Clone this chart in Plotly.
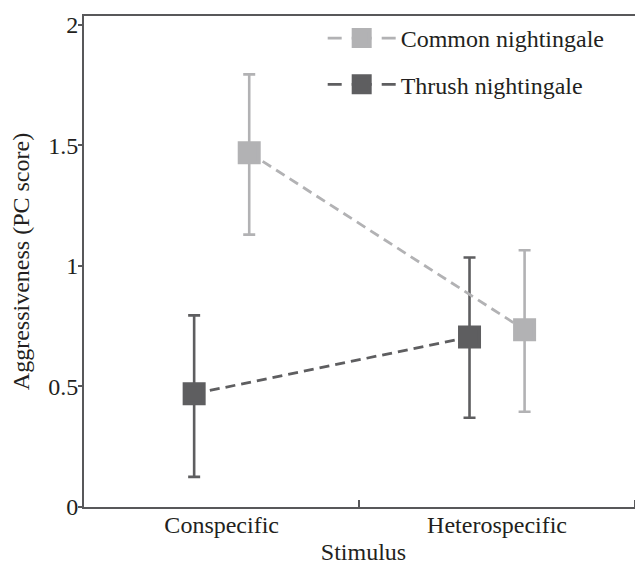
import plotly.graph_objects as go

categories = ["Conspecific", "Heterospecific"]

common_name = "Common nightingale"
common_mean = [1.47, 0.735]
common_low = [1.13, 0.395]
common_high = [1.795, 1.065]

thrush_name = "Thrush nightingale"
thrush_mean = [0.47, 0.705]
thrush_low = [0.125, 0.37]
thrush_high = [0.795, 1.035]

y_ticks = [0, 0.5, 1, 1.5, 2]
y_ticktext = ["0", "0.5", "1", "1.5", "2"]

LIGHT = "#b2b2b4"
DARK = "#5e5e60"
AXIS = "#58585a"
TEXT = "#231f20"
FONT = "Liberation Serif, Times New Roman, serif"
FS = 24


def err(mean, low, high, color):
    return dict(
        type="data",
        symmetric=False,
        array=[h - m for m, h in zip(mean, high)],
        arrayminus=[m - l for m, l in zip(mean, low)],
        thickness=2.6,
        width=6,
        color=color,
    )


def marker(color):
    return dict(symbol="square", size=19, color=color, line=dict(color=color, width=4))


fig = go.Figure()
series = [
    ("t", thrush_name, thrush_mean, thrush_low, thrush_high, DARK, 2),
    ("c", common_name, common_mean, common_low, common_high, LIGHT, 1),
]
for grp, name, mean, low, high, color, rank in series:
    fig.add_trace(go.Scatter(
        x=categories, y=mean, name=name, mode="lines+markers",
        line=dict(color=color, width=2.8, dash="10px,6px"),
        marker=marker(color),
        error_y=err(mean, low, high, color),
        offsetgroup=grp, showlegend=False,
    ))
# legend entries (same style, with the legend's own dash rhythm)
for grp, name, mean, low, high, color, rank in series:
    fig.add_trace(go.Scatter(
        x=[None], y=[None], name=name, mode="lines+markers",
        line=dict(color=color, width=2.8, dash="14px,10px,20px,10px,14px,40px"),
        marker=marker(color),
        offsetgroup=grp, legendgroup=grp, legendrank=rank, showlegend=True,
    ))

fig.update_layout(
    width=635, height=557,
    margin=dict(l=76, r=0, t=8, b=58),
    paper_bgcolor="white", plot_bgcolor="white",
    font=dict(family=FONT, size=FS, color=TEXT),
    scattermode="group", scattergap=0.6,
    showlegend=True,
    legend=dict(
        x=0.427, y=1.0, xanchor="left", yanchor="top",
        bgcolor="rgba(0,0,0,0)", traceorder="grouped", tracegroupgap=12,
        itemwidth=68, font=dict(size=FS, color=TEXT),
    ),
    xaxis=dict(
        type="category", categoryorder="array", categoryarray=categories,
        range=[-0.5, 1.53], tickson="boundaries", ticks="inside", ticklen=7,
        tickwidth=1.5, tickcolor=AXIS, showline=True, linecolor=AXIS, linewidth=2,
        mirror=True, showgrid=False, zeroline=False, ticklabelstandoff=-5,
        automargin=False,
        title=dict(text="Stimulus", standoff=12, font=dict(size=FS)),
        tickfont=dict(size=FS),
    ),
    yaxis=dict(
        range=[0, 2.037], tickvals=y_ticks, ticktext=y_ticktext,
        ticks="outside", ticklen=4, tickwidth=1.5, tickcolor=AXIS,
        showline=True, linecolor=AXIS, linewidth=2, showgrid=False, zeroline=False,
        ticklabelstandoff=-5, automargin=False,
        title=dict(text="Aggressiveness (PC score)", standoff=12, font=dict(size=FS)),
        tickfont=dict(size=FS),
    ),
)

fig.write_html("out.html")
